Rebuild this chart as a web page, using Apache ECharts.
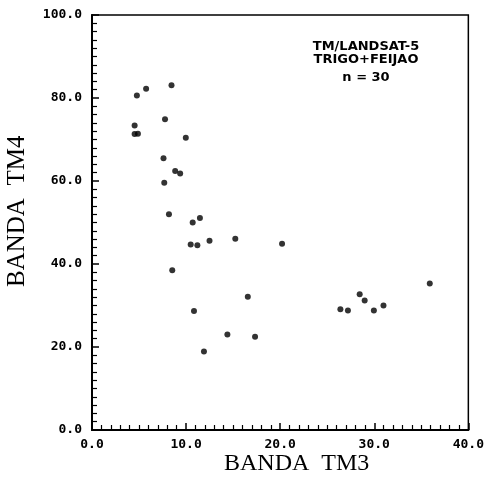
<!DOCTYPE html>
<html>
<head>
<meta charset="utf-8">
<script src="https://cdn.jsdelivr.net/npm/echarts@6/dist/echarts.min.js"></script>
<style>
  html, body { margin: 0; padding: 0; background: #fff; }
  #chart { width: 487px; height: 481px; }
</style>
</head>
<body>
<div id="chart"></div>
<script>
// TM3 (red) vs TM4 (near infrared) reflectance, wheat + bean fields
const tm3 = [8.45, 5.75, 4.77, 7.76, 4.53, 4.53, 4.88, 9.97, 7.6, 8.84, 9.37, 7.68,
             8.18, 10.7, 11.47, 10.49, 11.2, 12.49, 15.23, 20.2, 8.53, 16.56, 10.84,
             14.39, 17.33, 11.9,
             26.4, 27.2, 28.45, 28.98, 29.96, 30.98, 35.9];
const tm4 = [83.1, 82.2, 80.6, 74.9, 73.4, 71.3, 71.4, 70.4, 65.5, 62.4, 61.8, 59.6,
             52.0, 50.0, 51.1, 44.7, 44.5, 45.6, 46.1, 44.9, 38.5, 32.1, 28.7,
             23.0, 22.5, 18.9,
             29.1, 28.8, 32.7, 31.2, 28.8, 30.0, 35.3];
const xTicks = [0, 10, 20, 30, 40];
const yTicks = [0, 20, 40, 60, 80, 100];
const infoLines = ['TM/LANDSAT-5', 'TRIGO+FEIJAO', 'n = 30'];
const infoTops = [40, 53, 71];

const points = tm3.map((v, i) => [v, tm4[i]]);
const tickFont = { color: '#000', fontFamily: 'DejaVu Sans Mono', fontWeight: 'bold', fontSize: 13 };

const infoText = infoLines.map((t, i) => ({
  type: 'text', x: 366, y: infoTops[i],
  style: { text: t, align: 'center', verticalAlign: 'top', font: 'bold 13px "DejaVu Sans"', fill: '#000' }
}));

const chart = echarts.init(document.getElementById('chart'));
chart.setOption({
  animation: false,
  backgroundColor: '#fff',
  grid: { left: 92, right: 15, top: 15, bottom: 51, show: true, borderColor: '#000', borderWidth: 1.5 },
  xAxis: {
    type: 'value', min: xTicks[0], max: xTicks[xTicks.length - 1], interval: 10,
    axisLine: { lineStyle: { color: '#000', width: 2 } },
    axisTick: { inside: true, length: 7, lineStyle: { color: '#000', width: 1.5 } },
    minorTick: { show: true, splitNumber: 10, length: 5, lineStyle: { color: '#000', width: 1.2 } },
    splitLine: { show: false },
    axisLabel: Object.assign({ margin: 8, formatter: v => v.toFixed(1) }, tickFont)
  },
  yAxis: {
    type: 'value', min: yTicks[0], max: yTicks[yTicks.length - 1], interval: 20,
    axisLine: { lineStyle: { color: '#000', width: 2 } },
    axisTick: { inside: true, length: 7, lineStyle: { color: '#000', width: 1.5 } },
    minorTick: { show: true, splitNumber: 10, length: 5, lineStyle: { color: '#000', width: 1.2 } },
    splitLine: { show: false },
    axisLabel: Object.assign({ margin: 10, formatter: v => v.toFixed(1) }, tickFont)
  },
  series: [{
    type: 'scatter',
    data: points,
    symbol: 'circle',
    symbolSize: 6,
    itemStyle: { color: '#000' }
  }],
  graphic: [
    {
      type: 'text', left: 224, top: 452,
      style: { text: 'BANDA  TM3', font: '24px "Liberation Serif"', fill: '#000' }
    },
    {
      type: 'text', x: 5, y: 287, rotation: Math.PI / 2,
      style: { text: 'BANDA  TM4', font: '25px "Liberation Serif"', fill: '#000' }
    }
  ].concat(infoText)
});
</script>
</body>
</html>
